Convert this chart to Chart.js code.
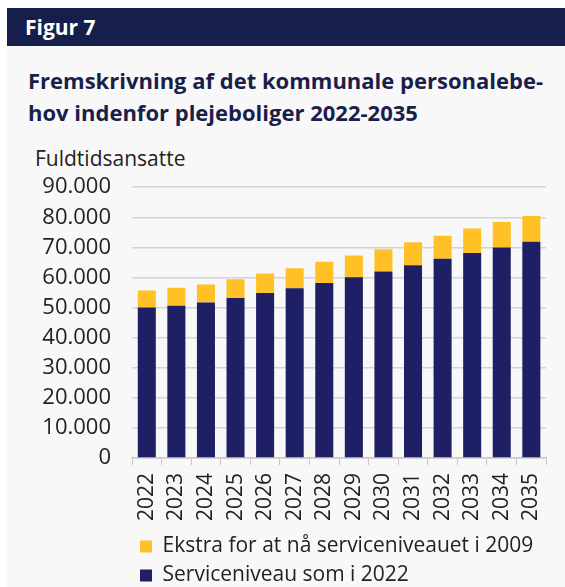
<!DOCTYPE html>
<html>
<head>
<meta charset="utf-8">
<script src="https://cdn.jsdelivr.net/npm/chart.js@4"></script>
<style>
  html, body { margin: 0; overflow: hidden; }
  body { background: #fff; font-family: "Open Sans", "Noto Sans", sans-serif; width: 565px; height: 587px; }
  #panel { position: absolute; left: 7px; top: 8px; width: 558px; height: 579px; background: #f8f8f8; overflow: hidden; }
  #head { position: absolute; left: 0; top: 0; width: 558px; height: 38px; background: #161f4b; color: #fff;
          font-weight: bold; font-size: 21px; line-height: 38px; padding-left: 18px; box-sizing: border-box; }
  #title { position: absolute; left: 21px; top: 56px; color: #1a1f4a; font-weight: bold; font-size: 22px; line-height: 32px; }
  #unit { position: absolute; left: 28px; top: 136px; color: #222; font-size: 21px; }
  #wrap { position: absolute; left: 0; top: 145px; width: 558px; height: 443px; }
</style>
</head>
<body>
<div id="panel">
  <div id="head">Figur 7</div>
  <div id="title">Fremskrivning af det kommunale personalebe-<br>hov indenfor plejeboliger 2022-2035</div>
  <div id="unit">Fuldtidsansatte</div>
  <div id="wrap"><canvas id="chart"></canvas></div>
</div>
<script>
// Years on the x axis
const years = ['2022', '2023', '2024', '2025', '2026', '2027', '2028',
               '2029', '2030', '2031', '2032', '2033', '2034', '2035'];
// Full-time staff at the 2022 service level
const base2022 = [50000, 50600, 51700, 53200, 54800, 56400, 58200,
                  60100, 62000, 64100, 66200, 68100, 70000, 71900];
// Extra staff to reach the 2009 service level
const extra2009 = [5700, 6000, 6000, 6200, 6500, 6700, 7000,
                   7200, 7400, 7600, 7700, 8200, 8400, 8500];

const fmt = v => String(v).replace(/\B(?=(\d{3})+(?!\d))/g, '.');

const ctx = document.getElementById('chart').getContext('2d');
new Chart(ctx, {
    type: 'bar',
    data: {
        labels: years,
        datasets: [{
            label: 'Serviceniveau som i 2022',
            data: base2022,
            backgroundColor: '#1f1f66',
            barPercentage: 0.61,
            categoryPercentage: 1
        }, {
            label: 'Ekstra for at nå serviceniveauet i 2009',
            data: extra2009,
            backgroundColor: '#ffc125',
            barPercentage: 0.61,
            categoryPercentage: 1
        }]
    },
    options: {
        responsive: true,
        maintainAspectRatio: false,
        animation: false,
        layout: { padding: { top: 17, right: 13, left: 0, bottom: 0 } },
        scales: {
            x: {
                stacked: true,
                afterFit: s => { s.height = 70; },
                grid: { drawOnChartArea: false, color: '#c8c8c8', tickLength: 7 },
                border: { color: '#c8c8c8', width: 1.5 },
                ticks: {
                    minRotation: 90, maxRotation: 90, color: '#222',
                    font: { family: '"Open Sans", sans-serif', size: 21 }, padding: 8
                }
            },
            y: {
                stacked: true,
                min: 0, max: 90000,
                afterFit: s => { s.width = 125; },
                grid: { color: '#d4d4d4', lineWidth: 1.5, drawTicks: false },
                border: { display: false },
                ticks: {
                    stepSize: 10000, autoSkip: false, color: '#222', padding: 21,
                    font: { family: '"Open Sans", sans-serif', size: 22 },
                    callback: v => fmt(v)
                }
            }
        },
        plugins: {
            tooltip: { enabled: false },
            legend: {
                position: 'bottom',
                align: 'start',
                fullSize: false,
                reverse: true,
                labels: {
                    boxWidth: 12, boxHeight: 12, padding: 8, color: '#222',
                    font: { family: '"Open Sans", sans-serif', size: 21 }
                }
            }
        }
    }
});
</script>
</body>
</html>
